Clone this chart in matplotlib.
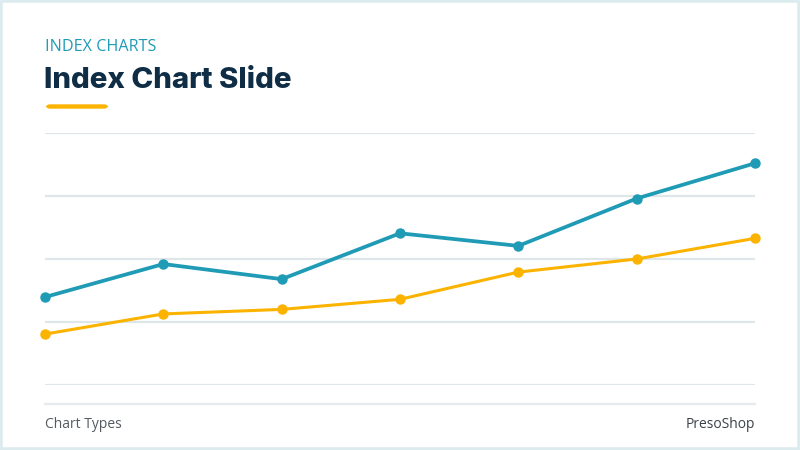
#!/usr/bin/env python3

import matplotlib
matplotlib.use("Agg")
import matplotlib.pyplot as plt
from matplotlib.patches import Rectangle, FancyBboxPatch
from matplotlib.lines import Line2D

# data (index scale 0-100)
periods = [1, 2, 3, 4, 5, 6, 7]
series_blue = [34.9, 48.0, 42.0, 60.2, 55.2, 74.0, 88.0]
series_yellow = [20.2, 28.2, 30.0, 34.0, 44.8, 50.0, 58.2]
grid_values = [0, 25, 50, 75, 100]

BLUE = "#1f9bb6"
YELLOW = "#fbb300"
NAVY = "#0f2d45"
GRID = "#dfe6ea"


def main():
    fig = plt.figure(figsize=(8, 4.5), dpi=100)
    fig.patch.set_facecolor("white")

    # thin light frame round the slide
    fig.add_artist(Rectangle((0, 0), 1, 1, transform=fig.transFigure,
                             fill=False, edgecolor="#dcebee", linewidth=4))

    # header texts
    fig.text(45 / 800, 1 - 47 / 450, "INDEX CHARTS", color=BLUE, fontsize=11.6,
             family="Open Sans", va="center", ha="left")
    fig.text(44 / 800, 1 - 81 / 450, "Index Chart Slide", color=NAVY, fontsize=21.2,
             family="Inter", weight="heavy", va="center", ha="left")
    fig.add_artist(FancyBboxPatch((47 / 800, 1 - 108 / 450), 60 / 800, 3 / 450,
                                  boxstyle="round,pad=0,rounding_size=0.004",
                                  transform=fig.transFigure, facecolor=YELLOW,
                                  edgecolor=YELLOW, linewidth=1))

    # chart area
    ax = fig.add_axes([45 / 800, 1 - 385 / 450, 710 / 800, 252 / 450])
    ax.set_xlim(periods[0], periods[-1])
    ax.set_ylim(grid_values[0], grid_values[-1])
    for v in grid_values:
        ax.axhline(v, color=GRID, linewidth=1.6, zorder=1)
    for s in ax.spines.values():
        s.set_visible(False)
    ax.set_xticks([])
    ax.set_yticks([])
    ax.patch.set_alpha(0)

    ax.plot(periods, series_blue, color=BLUE, linewidth=2.7, marker="o",
            markersize=6.5, clip_on=False, zorder=3)
    ax.plot(periods, series_yellow, color=YELLOW, linewidth=2.2, marker="o",
            markersize=6.5, clip_on=False, zorder=3)

    # footer
    fig.add_artist(Line2D([45 / 800, 755 / 800], [1 - 404 / 450, 1 - 404 / 450],
                          transform=fig.transFigure, color="#e6eaec", linewidth=1.6))
    fig.text(45 / 800, 1 - 424 / 450, "Chart Types", color="#555b60", fontsize=10,
             family="Open Sans", va="center", ha="left")
    fig.text(755 / 800, 1 - 424 / 450, "PresoShop", color="#3c4248", fontsize=10,
             family="Open Sans", va="center", ha="right")

    fig.savefig("out.png", dpi=100, facecolor="white")


if __name__ == "__main__":
    main()
